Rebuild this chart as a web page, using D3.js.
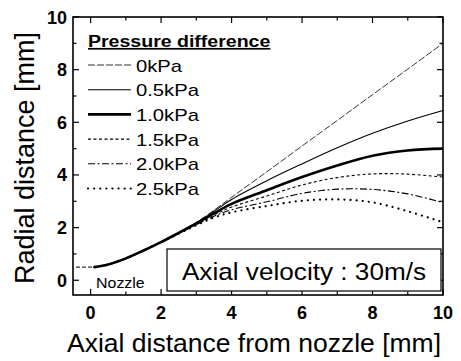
<!DOCTYPE html>
<html>
<head>
<meta charset="utf-8">
<script src="https://cdn.jsdelivr.net/npm/d3@7"></script>
<style>
  body { margin: 0; background: #fff; }
  text { font-family: "Liberation Sans", Arial, sans-serif; }
</style>
</head>
<body>
<div id="chart"></div>
<script>
// axial distance [mm]
var axialX = [0.1, 0.5, 1, 1.5, 2, 2.5, 3, 3.5, 4, 5, 6, 7, 8, 9, 10];

// radial distance [mm] per pressure difference
var p00 = [0.5, 0.6, 0.83, 1.13, 1.45, 1.82, 2.2, 2.66, 3.15, 4.12, 5.1, 6.07, 7.05, 8.02, 9.0];
var p05 = [0.5, 0.6, 0.83, 1.13, 1.45, 1.81, 2.18, 2.62, 3.07, 3.78, 4.42, 5.03, 5.58, 6.05, 6.45];
var p10 = [0.5, 0.6, 0.83, 1.13, 1.45, 1.8, 2.16, 2.54, 2.9, 3.42, 3.92, 4.36, 4.73, 4.93, 5.0];
var p15 = [0.5, 0.6, 0.83, 1.13, 1.45, 1.79, 2.13, 2.48, 2.78, 3.2, 3.62, 3.9, 4.04, 4.03, 3.92];
var p20 = [0.5, 0.6, 0.83, 1.13, 1.45, 1.78, 2.11, 2.43, 2.68, 2.98, 3.3, 3.46, 3.45, 3.28, 2.95];
var p25 = [0.5, 0.6, 0.83, 1.13, 1.45, 1.77, 2.09, 2.38, 2.58, 2.82, 3.02, 3.07, 2.96, 2.62, 2.2];

var seriesNames = ["0kPa", "0.5kPa", "1.0kPa", "1.5kPa", "2.0kPa", "2.5kPa"];
var seriesData = [p00, p05, p10, p15, p20, p25];
var xTicks = [0, 2, 4, 6, 8, 10];
var yTicks = [0, 2, 4, 6, 8, 10];

// line looks, same order as seriesNames
var styles = [
  {w: 0.8, dash: "7,2", cap: "butt"},
  {w: 1.1, dash: null, cap: "butt"},
  {w: 2.6, dash: null, cap: "butt"},
  {w: 1.1, dash: "3,2.5", cap: "butt"},
  {w: 1.1, dash: "7,2.5,2,2.5", cap: "butt"},
  {w: 2.2, dash: "0.1,6", cap: "round"}
];

var width = 461, height = 361,
    margin = {top: 17, right: 18, bottom: 66, left: 73};

var svg = d3.select("#chart").append("svg")
  .attr("width", width).attr("height", height);

var x = d3.scaleLinear().domain([-0.5, 10]).range([margin.left, width - margin.right]);
var y = d3.scaleLinear().domain([-0.56, 10]).range([height - margin.bottom, margin.top]);

var x0 = x.range()[0], x1 = x.range()[1], y0 = y.range()[0], y1 = y.range()[1];

// inner ticks, major every 2 and minor every 1
var minor = d3.range(0, 11, 1);
function tickLine(ax, ay, bx, by) {
  svg.append("line").attr("x1", ax).attr("y1", ay).attr("x2", bx).attr("y2", by)
    .attr("stroke", "#000").attr("stroke-width", 1.2);
}
minor.forEach(function(v) {
  var len = v % 2 === 0 ? 6 : 3.5;
  tickLine(x(v), y0, x(v), y0 - len);
  tickLine(x(v), y1, x(v), y1 + len);
  tickLine(x0, y(v), x0 + len, y(v));
  tickLine(x1, y(v), x1 - len, y(v));
});

// frame
svg.append("rect").attr("x", x0).attr("y", y1)
  .attr("width", x1 - x0).attr("height", y0 - y1)
  .attr("fill", "none").attr("stroke", "#000").attr("stroke-width", 1.6);

// tick labels
svg.selectAll(".xl").data(xTicks).enter().append("text")
  .attr("x", d => x(d)).attr("y", 319)
  .attr("text-anchor", "middle").style("font-size", "18px").style("font-weight", "bold")
  .text(d => d);
svg.selectAll(".yl").data(yTicks).enter().append("text")
  .attr("x", 67).attr("y", d => y(d) + 6.5)
  .attr("text-anchor", "end").style("font-size", "18px").style("font-weight", "bold")
  .text(d => d);

// axis titles
svg.append("text").attr("x", 254).attr("y", 352)
  .attr("text-anchor", "middle").style("font-size", "26.5px")
  .text("Axial distance from nozzle [mm]");
svg.append("text").attr("transform", "translate(34,158) rotate(-90)")
  .attr("text-anchor", "middle").style("font-size", "27px")
  .text("Radial distance [mm]");

// velocity box
svg.append("rect").attr("x", 167).attr("y", 249).attr("width", 274).attr("height", 42)
  .attr("fill", "#fff").attr("stroke", "#000").attr("stroke-width", 1.2);
svg.append("text").attr("transform", "translate(304,280) scale(1.09,1)")
  .attr("text-anchor", "middle").style("font-size", "24px")
  .text("Axial velocity : 30m/s");

// nozzle marker
svg.append("line").attr("x1", x0 + 3).attr("x2", x(0.05))
  .attr("y1", y(0.5)).attr("y2", y(0.5))
  .attr("stroke", "#000").attr("stroke-width", 1).attr("stroke-dasharray", "4,2");
svg.append("text").attr("transform", "translate(96,288) scale(1.1,1)")
  .style("font-size", "14.5px").text("Nozzle");

// curves
var line = d3.line().curve(d3.curveCatmullRom.alpha(0.5))
  .x((d, i) => x(axialX[i])).y(d => y(d));

seriesData.forEach(function(s, i) {
  svg.append("path").datum(s).attr("d", line)
    .attr("fill", "none").attr("stroke", "#000")
    .attr("stroke-width", styles[i].w)
    .attr("stroke-dasharray", styles[i].dash)
    .attr("stroke-linecap", styles[i].cap);
});

// legend
svg.append("text").attr("transform", "translate(88,47) scale(1.15,1)")
  .style("font-size", "17px").style("font-weight", "bold")
  .style("text-decoration", "underline")
  .text("Pressure difference");

seriesNames.forEach(function(name, i) {
  var ly = 65 + i * 24.7;
  svg.append("line").attr("x1", 88).attr("x2", 131).attr("y1", ly).attr("y2", ly)
    .attr("stroke", "#000").attr("stroke-width", styles[i].w)
    .attr("stroke-dasharray", styles[i].dash)
    .attr("stroke-linecap", styles[i].cap);
  svg.append("text").attr("transform", "translate(136," + (ly + 6.5) + ") scale(1.19,1)")
    .style("font-size", "17px").text(name);
});
</script>
</body>
</html>
